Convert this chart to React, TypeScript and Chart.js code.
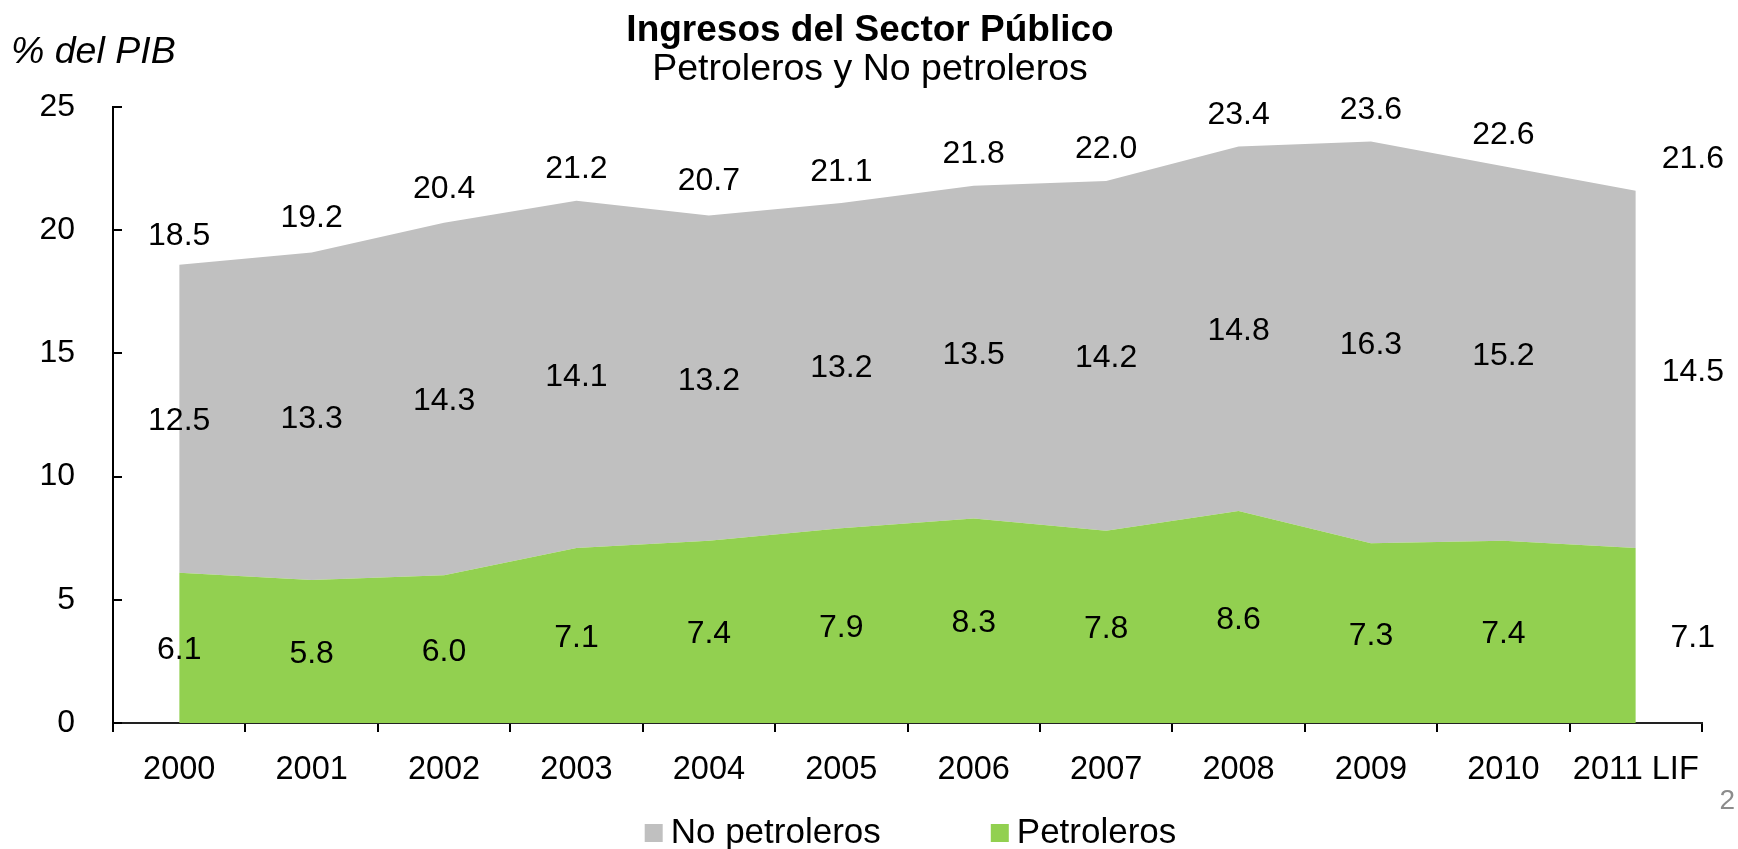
import { useEffect, useRef } from "react";
import { Chart, registerables } from "chart.js";

Chart.register(...registerables);

const categories = ["2000", "2001", "2002", "2003", "2004", "2005", "2006", "2007", "2008", "2009", "2010", "2011 LIF"];
const petroleros = [6.1, 5.8, 6.0, 7.1, 7.4, 7.9, 8.3, 7.8, 8.6, 7.3, 7.4, 7.1];
const noPetroleros = [12.5, 13.3, 14.3, 14.1, 13.2, 13.2, 13.5, 14.2, 14.8, 16.3, 15.2, 14.5];
const totals = [18.5, 19.2, 20.4, 21.2, 20.7, 21.1, 21.8, 22.0, 23.4, 23.6, 22.6, 21.6];
const yTicks = [0, 5, 10, 15, 20, 25];

const titleText = "Ingresos del Sector Público";
const subtitleText = "Petroleros y No petroleros";
const unitLabel = "% del PIB";
const pageNumber = "2";
const seriesNames = ["No petroleros", "Petroleros"];

const FONT = "'Liberation Sans', Arial, Helvetica, sans-serif";
const GREEN = "#92D050";
const GRAY = "#C0C0C0";

const annotatePlugin = {
  id: "annotate",
  afterDatasetsDraw(chart: any) {
    const ctx = chart.ctx;
    const xs = chart.scales.x;
    const ys = chart.scales.y;
    ctx.save();
    ctx.fillStyle = "#000";
    ctx.font = `32px ${FONT}`;
    ctx.textAlign = "center";
    ctx.textBaseline = "alphabetic";
    const base = 11.5;
    categories.forEach((_c, i) => {
      const px = xs.getPixelForValue(i) + (i === categories.length - 1 ? 57 : 0);
      const p = petroleros[i];
      const n = noPetroleros[i];
      const t = totals[i];
      ctx.fillText(p.toFixed(1), px, ys.getPixelForValue(p / 2) + base);
      ctx.fillText(n.toFixed(1), px, ys.getPixelForValue(p + n / 2) + base);
      ctx.fillText(t.toFixed(1), px, ys.getPixelForValue(t) - 34 + base);
    });
    ctx.restore();
  },
  afterDraw(chart: any) {
    const ctx = chart.ctx;
    const ys = chart.scales.y;
    const area = chart.chartArea;
    const W = chart.width;
    ctx.save();
    // inner ticks on y axis
    ctx.strokeStyle = "#000";
    ctx.lineWidth = 2;
    yTicks.forEach((v) => {
      const py = Math.round(ys.getPixelForValue(v));
      ctx.beginPath();
      ctx.moveTo(area.left, py);
      ctx.lineTo(area.left + 9, py);
      ctx.stroke();
    });
    // title and subtitle
    ctx.fillStyle = "#000";
    ctx.textAlign = "center";
    ctx.textBaseline = "alphabetic";
    ctx.font = `bold 37px ${FONT}`;
    ctx.fillText(titleText, W / 2 + 1, 41);
    ctx.font = `37.5px ${FONT}`;
    ctx.fillText(subtitleText, W / 2 + 1, 80);
    // unit label
    ctx.textAlign = "left";
    ctx.font = `italic 37.5px ${FONT}`;
    ctx.fillText(unitLabel, 11, 63);
    // legend
    ctx.font = `35px ${FONT}`;
    const colors = [GRAY, GREEN];
    const box = 18;
    const gapText = 8;
    const spacing = 110;
    const widths = seriesNames.map((s) => ctx.measureText(s).width);
    const total = widths.reduce((a, w) => a + box + gapText + w, 0) + spacing;
    let lx = (area.left + area.right) / 2 + 3 - total / 2;
    const ly = 843;
    seriesNames.forEach((s, i) => {
      ctx.fillStyle = colors[i];
      ctx.fillRect(lx, ly - 19, box, box);
      ctx.fillStyle = "#000";
      ctx.fillText(s, lx + box + gapText, ly);
      lx += box + gapText + widths[i] + spacing;
    });
    // page number
    ctx.fillStyle = "#8C8C8C";
    ctx.font = `28px ${FONT}`;
    ctx.textAlign = "right";
    ctx.fillText(pageNumber, 1735, 809);
    ctx.restore();
  },
};

export default function App() {
  const canvasRef = useRef<HTMLCanvasElement | null>(null);

  useEffect(() => {
    if (!canvasRef.current) return;
    const chart = new Chart(canvasRef.current, {
      type: "line",
      data: {
        labels: categories,
        datasets: [
          {
            label: "Petroleros",
            data: petroleros,
            backgroundColor: GREEN,
            borderWidth: 0,
            borderColor: GREEN,
            pointRadius: 0,
            fill: "origin",
            tension: 0,
          },
          {
            label: "No petroleros",
            data: noPetroleros,
            backgroundColor: GRAY,
            borderWidth: 0,
            borderColor: GRAY,
            pointRadius: 0,
            fill: "-1",
            tension: 0,
          },
        ],
      },
      options: {
        responsive: false,
        animation: false,
        events: [],
        layout: { padding: { top: 107, right: 36, bottom: 66, left: 0 } },
        plugins: {
          legend: { display: false },
          title: { display: false },
          tooltip: { enabled: false },
        },
        scales: {
          x: {
            type: "category",
            offset: true,
            z: 1,
            grid: {
              display: true,
              offset: true,
              drawOnChartArea: false,
              drawTicks: true,
              tickLength: 9,
              color: "#000",
              lineWidth: 2,
            },
            border: { display: true, color: "#222", width: 2 },
            ticks: {
              color: "#000",
              font: { family: FONT, size: 32.5 },
              padding: 19,
              maxRotation: 0,
              autoSkip: false,
            },
            afterFit: (scale: any) => {
              scale.height = 60;
            },
          },
          y: {
            stacked: true,
            min: 0,
            max: 25,
            z: 1,
            grid: { display: false, drawTicks: false },
            border: { display: true, color: "#000", width: 2 },
            ticks: {
              stepSize: 5,
              color: "#000",
              font: { family: FONT, size: 32 },
              padding: 38,
            },
            afterFit: (scale: any) => {
              scale.width = 113;
            },
          },
        },
      },
      plugins: [annotatePlugin],
    });
    return () => chart.destroy();
  }, []);

  return (
    <div style={{ position: "fixed", left: 0, top: 0, width: 1738, height: 849, background: "#fff" }}>
      <canvas ref={canvasRef} width={1738} height={849} style={{ display: "block" }} />
    </div>
  );
}
